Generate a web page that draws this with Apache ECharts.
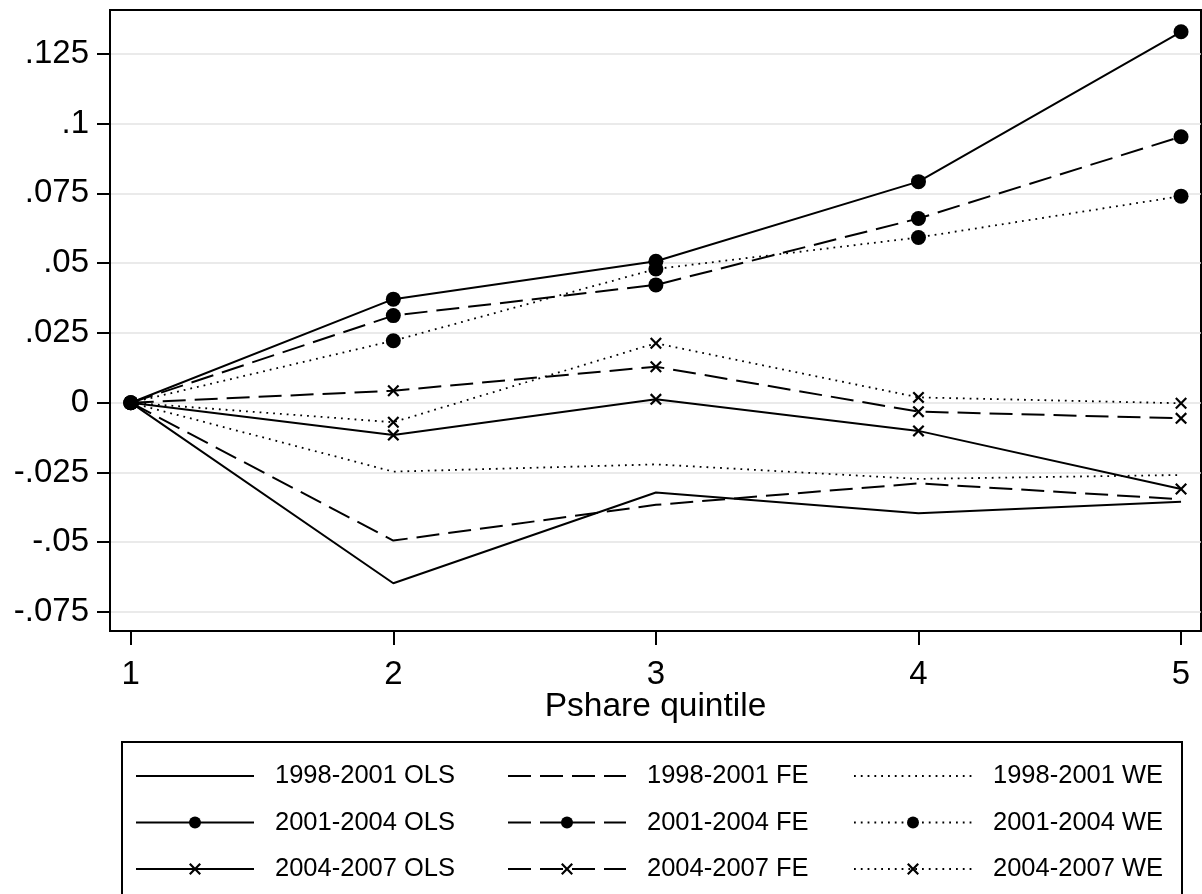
<!DOCTYPE html>
<html>
<head>
<meta charset="utf-8">
<script src="https://cdn.jsdelivr.net/npm/echarts@6/dist/echarts.min.js"></script>
<style>
html,body{margin:0;padding:0;background:#fff;}
#chart{width:1202px;height:894px;}
</style>
</head>
<body>
<div id="chart"></div>
<script>
// ---- data ----
const quintiles = [1, 2, 3, 4, 5];
const xTickValues = [1, 2, 3, 4, 5];
const yTickValues = [-0.075, -0.05, -0.025, 0, 0.025, 0.05, 0.075, 0.1, 0.125];
const yTickLabels = ['-.075', '-.05', '-.025', '0', '.025', '.05', '.075', '.1', '.125'];

const ols9801 = [0, -0.0647, -0.0322, -0.0396, -0.0355];
const fe9801  = [0, -0.0494, -0.0366, -0.0289, -0.0346];
const we9801  = [0, -0.0247, -0.0221, -0.0273, -0.0259];
const ols0104 = [0, 0.0371, 0.0507, 0.0792, 0.1329];
const fe0104  = [0, 0.0312, 0.0422, 0.0660, 0.0953];
const we0104  = [0, 0.0222, 0.0479, 0.0592, 0.0740];
const ols0407 = [0, -0.0116, 0.0012, -0.0101, -0.0309];
const fe0407  = [0, 0.0043, 0.0129, -0.0032, -0.0056];
const we0407  = [0, -0.0070, 0.0213, 0.0019, -0.0002];

const seriesNames = [
  '1998-2001 OLS', '1998-2001 FE', '1998-2001 WE',
  '2001-2004 OLS', '2001-2004 FE', '2001-2004 WE',
  '2004-2007 OLS', '2004-2007 FE', '2004-2007 WE'
];
const seriesValues = [ols9801, fe9801, we9801, ols0104, fe0104, we0104, ols0407, fe0407, we0407];

// ---- styles ----
const FONT = "'Liberation Sans', Arial, sans-serif";
const X_PATH = 'path://M0,1.3L1.3,0L5,3.7L8.7,0L10,1.3L6.3,5L10,8.7L8.7,10L5,6.3L1.3,10L0,8.7L3.7,5Z';
const lineTypes = [
  {type: 'solid', width: 2},
  {type: [23, 9], width: 2},
  {type: [1.8, 5], width: 1.8}
];
const markerTypes = [
  {symbol: 'none', size: 0},
  {symbol: 'circle', size: 15},
  {symbol: X_PATH, size: 12}
];

const series = seriesNames.map((name, i) => {
  const lt = lineTypes[i % 3];
  const mk = markerTypes[Math.floor(i / 3)];
  return {
    name: name,
    type: 'line',
    data: quintiles.map((q, k) => [q, seriesValues[i][k]]),
    symbol: mk.symbol,
    symbolSize: mk.size,
    showSymbol: mk.symbol !== 'none',
    showAllSymbol: true,
    lineStyle: {color: '#000', width: lt.width, type: lt.type},
    itemStyle: {color: '#000'},
    emphasis: {disabled: true},
    animation: false
  };
});

function legendItem(idx) {
  const item = {name: seriesNames[idx]};
  if (markerTypes[Math.floor(idx / 3)].symbol === 'none') {
    item.itemStyle = {opacity: 0};
  }
  return item;
}

function makeLegend(col, left) {
  return {
    orient: 'vertical',
    left: left,
    top: 763,
    padding: 0,
    itemWidth: 118,
    itemHeight: 15,
    itemGap: 20.5,
    selectedMode: false,
    data: [legendItem(col), legendItem(col + 3), legendItem(col + 6)],
    textStyle: {fontFamily: FONT, fontSize: 25.5, color: '#000', lineHeight: 26, padding: [0, 0, 0, 16]}
  };
}

const chart = echarts.init(document.getElementById('chart'), null, {renderer: 'canvas'});
chart.setOption({
  backgroundColor: '#fff',
  animation: false,
  grid: {
    left: 110, right: 1, top: 10, bottom: 263,
    show: true, borderColor: '#000', borderWidth: 2, backgroundColor: 'transparent'
  },
  xAxis: {
    type: 'value',
    min: 0.921, max: 5.076,
    name: 'Pshare quintile',
    nameLocation: 'middle',
    nameGap: 59,
    nameMoveOverlap: false,
    nameTextStyle: {fontFamily: FONT, fontSize: 33.5, color: '#000'},
    axisLine: {show: true, onZero: false, lineStyle: {color: '#000', width: 2}},
    axisTick: {show: true, length: 14, lineStyle: {color: '#000', width: 2}, customValues: xTickValues},
    axisLabel: {
      fontFamily: FONT, fontSize: 33, color: '#000', margin: 27,
      customValues: xTickValues,
      formatter: v => String(v)
    },
    splitLine: {show: false}
  },
  yAxis: {
    type: 'value',
    min: -0.0818, max: 0.1407,
    axisLine: {show: true, onZero: false, lineStyle: {color: '#000', width: 2}},
    axisTick: {show: true, length: 13, lineStyle: {color: '#000', width: 2}, customValues: yTickValues},
    axisLabel: {
      fontFamily: FONT, fontSize: 33, color: '#000', margin: 21,
      customValues: yTickValues,
      formatter: v => {
        const idx = yTickValues.findIndex(t => Math.abs(t - v) < 1e-9);
        return idx >= 0 ? yTickLabels[idx] : '';
      }
    },
    splitLine: {show: true, lineStyle: {color: '#e3e3e3', width: 1.5}}
  },
  legend: [makeLegend(0, 135), makeLegend(1, 507), makeLegend(2, 853)],
  graphic: [{
    type: 'rect',
    shape: {x: 122, y: 742, width: 1060, height: 200},
    style: {fill: 'none', stroke: '#000', lineWidth: 2},
    silent: true,
    z: -1
  }],
  series: series
});
</script>
</body>
</html>
